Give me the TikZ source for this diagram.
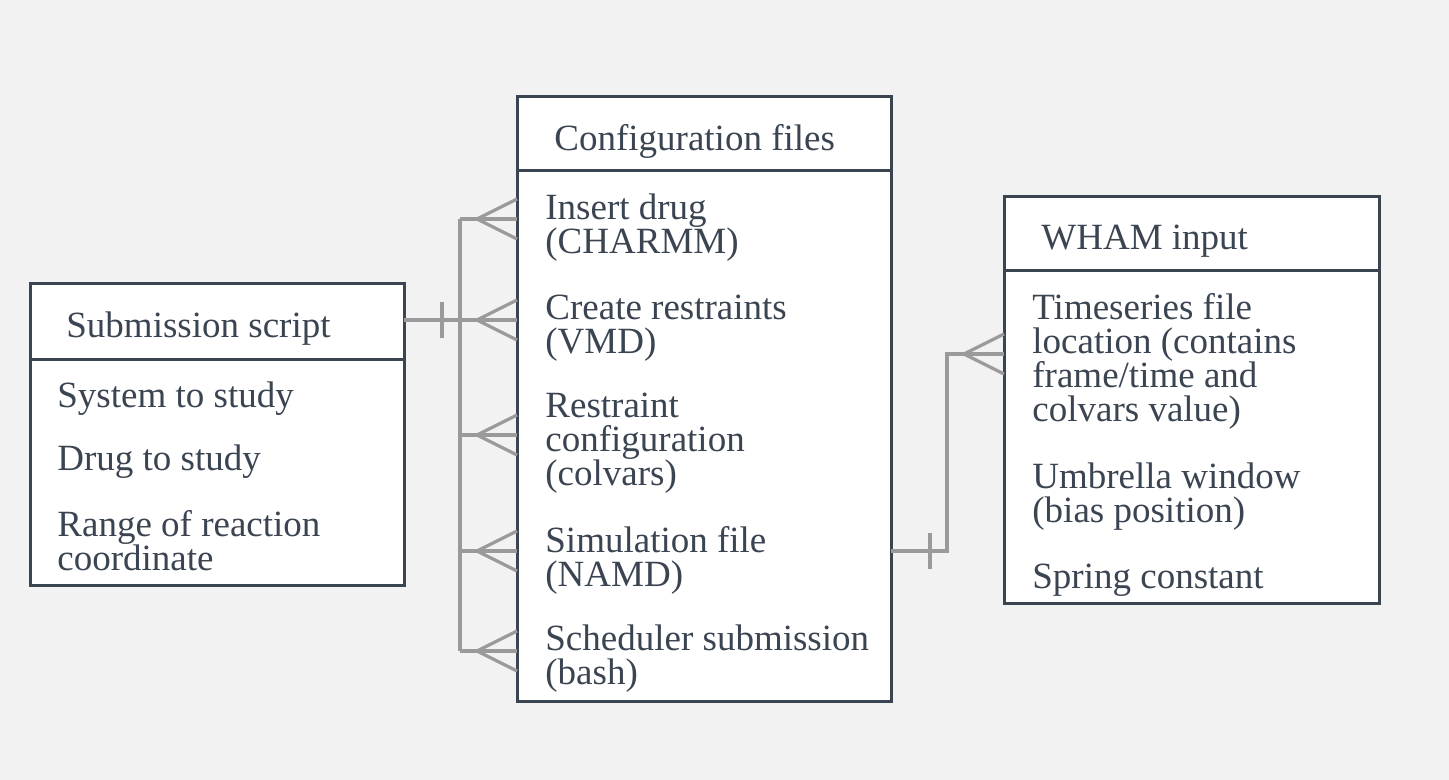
\documentclass[tikz,border=0pt]{standalone}
\usepackage{fontspec}
\setmainfont{Liberation Serif}
\usetikzlibrary{calc}
\definecolor{ink}{HTML}{3B4552}
\definecolor{wire}{HTML}{9A9A9A}
\definecolor{paper}{HTML}{F2F2F2}
\tikzset{
	box/.style={draw=ink, line width=1.5pt, fill=white, anchor=north west, inner sep=0pt, outer sep=0pt, minimum width=187pt},
	head/.style={anchor=west, inner sep=0pt, text=ink, font=\fontsize{18.5}{17}\selectfont},
	item/.style={anchor=west, align=left, inner sep=0pt, text=ink, font=\fontsize{18.5}{17}\selectfont},
	link/.style={draw=wire, line width=1.6pt}
}
\def\crowsfoot(#1){\draw[link] ($(#1)+(0,-20)$) -- ($(#1)+(-40,0)$) -- ($(#1)+(0,20)$);}
\def\onemark(#1){\draw[link] ($(#1)+(0,-18)$) -- ($(#1)+(0,18)$);}

\begin{document}
\begin{tikzpicture}[x=0.5pt, y=-0.5pt]
		%%%%% START %%%%%
		
		\fill[paper] (0, 0) rectangle (1449, 780);
		\useasboundingbox (0, 0) rectangle (1449, 780);
		
		% submission script
		\node[box, minimum height=37.5pt] (subhead) at (30, 284) {};
		\node[box, minimum height=113pt] (subbody) at (subhead.south west) {};
		\node[head] (subtitle) at (66, 329) {Submission script};
		\node[item] (sys) at (57, 399) {System to study};
		\node[item] (drug) at (57, 462) {Drug to study};
		\node[item] (range) at (57, 541) {Range of reaction\\coordinate};
		
		% configuration files
		\node[box, minimum height=37pt] (cfghead) at (517, 97) {};
		\node[box, minimum height=265pt] (cfgbody) at (cfghead.south west) {};
		\node[head] (cfgtitle) at (554, 141) {Configuration files};
		\node[item] (insert) at (545, 228) {Insert drug\\(CHARMM)};
		\node[item] (restr) at (545, 328) {Create restraints\\(VMD)};
		\node[item] (colvars) at (545, 443) {Restraint\\configuration\\(colvars)};
		\node[item] (namd) at (545, 560) {Simulation file\\(NAMD)};
		\node[item] (sched) at (545, 659) {Scheduler submission\\(bash)};
		
		% wham input
		\node[box, minimum width=187.5pt, minimum height=37pt] (whamhead) at (1004, 197) {};
		\node[box, minimum width=187.5pt, minimum height=166pt] (whambody) at (whamhead.south west) {};
		\node[head] (whamtitle) at (1041, 241) {WHAM input};
		\node[item] (series) at (1032, 361) {Timeseries file\\location (contains\\frame/time and\\colvars value)};
		\node[item] (window) at (1032, 497) {Umbrella window\\(bias position)};
		\node[item] (spring) at (1032, 580) {Spring constant};
		
		% one script -> many config files
		\coordinate (b1) at (460, 219);
		\coordinate (b2) at (460, 320);
		\coordinate (b3) at (460, 435);
		\coordinate (b4) at (460, 551);
		\coordinate (b5) at (460, 651);
		\draw[link] (subhead.east |- b2) -- (b2);
		\draw[link] (b1) -- (b5);
		\foreach \b in {b1,b2,b3,b4,b5}{
			\draw[link] (\b) -- (cfgbody.west |- \b);
			\crowsfoot(cfgbody.west |- \b)
		}
		\onemark(442, 320)
		
		% config files -> wham input
		\coordinate (r1) at (947, 551);
		\coordinate (r2) at (947, 354);
		\draw[link] (cfgbody.east |- r1) -- (r1) -- (r2) -- (whambody.west |- r2);
		\crowsfoot(whambody.west |- r2)
		\onemark(930, 551)
		
		%%%%% END %%%%%
\end{tikzpicture}
\end{document}
